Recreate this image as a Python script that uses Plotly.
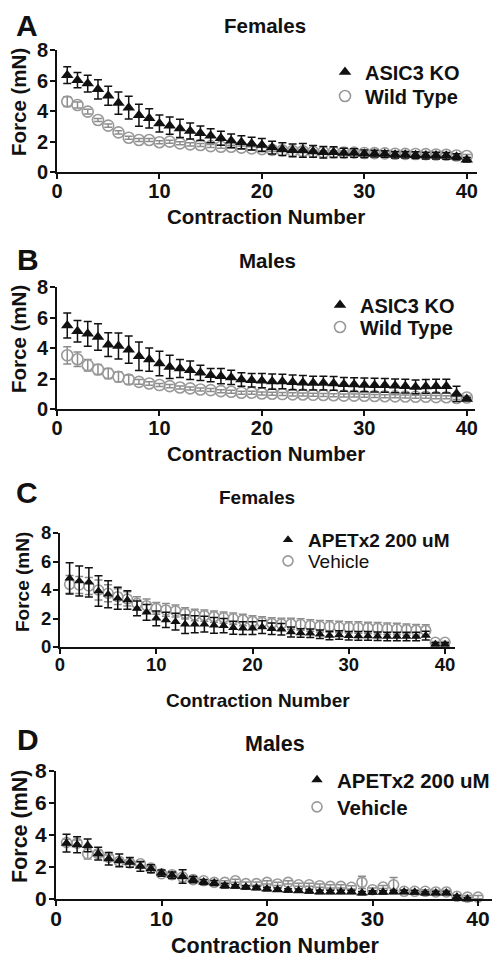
import plotly.graph_objects as go

contraction = list(range(1, 41))
x_ticks = [0, 10, 20, 30, 40]
y_ticks = [0, 2, 4, 6, 8]

# Panel A - Females, ASIC3 KO vs Wild Type
a_ko = [6.35, 6.02, 5.8, 5.42, 5.0, 4.52, 4.22, 3.72, 3.52, 3.18, 3.04, 2.86, 2.69, 2.54, 2.38, 2.21, 2.05, 1.95, 1.86, 1.77,
        1.6, 1.5, 1.42, 1.42, 1.35, 1.3, 1.3, 1.25, 1.25, 1.2, 1.2, 1.18, 1.13, 1.13, 1.1, 1.08, 1.08, 1.06, 1.0, 0.8]
a_ko_err = [0.55, 0.5, 0.55, 0.63, 0.63, 0.73, 0.75, 0.72, 0.63, 0.55, 0.57, 0.6, 0.52, 0.48, 0.46, 0.46, 0.45, 0.42, 0.42, 0.42,
            0.42, 0.42, 0.42, 0.45, 0.38, 0.38, 0.35, 0.3, 0.28, 0.25, 0.22, 0.22, 0.22, 0.22, 0.22, 0.22, 0.22, 0.22, 0.2, 0.15]
a_wt = [4.62, 4.39, 3.96, 3.41, 3.04, 2.6, 2.25, 2.1, 2.1, 1.95, 1.99, 1.88, 1.81, 1.77, 1.7, 1.66, 1.66, 1.6, 1.55, 1.5,
        1.45, 1.42, 1.38, 1.36, 1.32, 1.3, 1.3, 1.28, 1.27, 1.25, 1.24, 1.22, 1.2, 1.19, 1.18, 1.17, 1.15, 1.13, 1.08, 1.05]
a_wt_err = [0.32, 0.2, 0.15, 0.1, 0.1, 0.1, 0.1, 0.1, 0.1, 0.1, 0.1, 0.1, 0.1, 0.1, 0.1, 0.1, 0.1, 0.1, 0.1, 0.1,
            0.1, 0.1, 0.1, 0.1, 0.1, 0.1, 0.1, 0.1, 0.1, 0.1, 0.1, 0.1, 0.1, 0.1, 0.1, 0.1, 0.1, 0.1, 0.1, 0.1]

# Panel B - Males, ASIC3 KO vs Wild Type
b_ko = [5.48, 5.1, 4.93, 4.72, 4.22, 4.13, 3.89, 3.46, 3.24, 2.98, 2.76, 2.65, 2.54, 2.37, 2.22, 2.15, 2.07, 1.93, 1.89, 1.86,
        1.8, 1.8, 1.75, 1.72, 1.7, 1.7, 1.68, 1.62, 1.6, 1.58, 1.56, 1.55, 1.52, 1.5, 1.45, 1.48, 1.5, 1.5, 1.0, 0.65]
b_ko_err = [0.82, 0.7, 0.81, 0.87, 0.78, 0.85, 0.89, 0.93, 0.76, 0.8, 0.76, 0.59, 0.61, 0.5, 0.43, 0.5, 0.47, 0.44, 0.44, 0.46,
            0.5, 0.48, 0.48, 0.47, 0.45, 0.45, 0.45, 0.45, 0.45, 0.45, 0.45, 0.45, 0.45, 0.45, 0.45, 0.45, 0.45, 0.45, 0.5, 0.1]
b_wt = [3.52, 3.26, 2.87, 2.59, 2.33, 2.11, 1.93, 1.78, 1.67, 1.57, 1.5, 1.41, 1.35, 1.28, 1.24, 1.17, 1.13, 1.07, 1.07, 1.02,
        1.0, 0.98, 0.96, 0.95, 0.93, 0.92, 0.9, 0.88, 0.88, 0.87, 0.85, 0.84, 0.83, 0.82, 0.8, 0.8, 0.78, 0.77, 0.72, 0.75]
b_wt_err = [0.57, 0.47, 0.38, 0.33, 0.33, 0.33, 0.3, 0.15, 0.12, 0.1, 0.1, 0.1, 0.1, 0.1, 0.1, 0.1, 0.1, 0.1, 0.1, 0.1,
            0.1, 0.1, 0.1, 0.1, 0.1, 0.1, 0.1, 0.1, 0.1, 0.1, 0.1, 0.1, 0.1, 0.1, 0.1, 0.1, 0.1, 0.1, 0.1, 0.1]

# Panel C - Females, APETx2 200 uM vs Vehicle
c_apet = [4.82, 4.63, 4.54, 3.93, 3.7, 3.42, 3.3, 2.71, 2.43, 2.01, 1.9, 1.78, 1.6, 1.6, 1.6, 1.52, 1.5, 1.35, 1.32, 1.32,
          1.4, 1.28, 1.25, 1.05, 0.98, 0.96, 0.9, 0.81, 0.84, 0.79, 0.78, 0.78, 0.75, 0.74, 0.74, 0.74, 0.74, 0.8, 0.2, 0.2]
c_apet_err = [1.1, 1.05, 1.03, 1.07, 0.95, 0.77, 0.65, 0.52, 0.56, 0.52, 0.53, 0.58, 0.65, 0.6, 0.55, 0.55, 0.5, 0.45, 0.45, 0.45,
              0.45, 0.4, 0.4, 0.35, 0.3, 0.3, 0.3, 0.3, 0.3, 0.3, 0.3, 0.3, 0.3, 0.3, 0.3, 0.3, 0.3, 0.3, 0.1, 0.1]
c_veh = [4.4, 4.35, 4.28, 4.0, 3.77, 3.53, 3.37, 3.06, 2.9, 2.71, 2.6, 2.53, 2.36, 2.25, 2.2, 2.13, 2.06, 1.98, 1.9, 1.8,
         1.72, 1.66, 1.62, 1.62, 1.58, 1.51, 1.46, 1.44, 1.4, 1.38, 1.37, 1.34, 1.32, 1.28, 1.26, 1.22, 1.18, 1.16, 0.33, 0.33]
c_veh_err = [0.62, 0.6, 0.6, 0.7, 0.6, 0.55, 0.5, 0.47, 0.47, 0.42, 0.45, 0.42, 0.4, 0.4, 0.4, 0.4, 0.4, 0.4, 0.4, 0.4,
             0.4, 0.4, 0.4, 0.4, 0.4, 0.4, 0.4, 0.4, 0.4, 0.4, 0.4, 0.4, 0.4, 0.4, 0.4, 0.4, 0.4, 0.4, 0.05, 0.05]

# Panel D - Males, APETx2 200 uM vs Vehicle
d_apet = [3.49, 3.39, 3.35, 2.83, 2.52, 2.41, 2.29, 2.04, 1.89, 1.62, 1.48, 1.41, 1.21, 1.06, 1.0, 0.83, 0.79, 0.73, 0.69, 0.62,
          0.58, 0.54, 0.52, 0.48, 0.44, 0.44, 0.44, 0.44, 0.37, 0.42, 0.42, 0.44, 0.44, 0.42, 0.37, 0.37, 0.37, 0.12, 0.0, None]
d_apet_err = [0.56, 0.5, 0.4, 0.4, 0.39, 0.4, 0.3, 0.3, 0.25, 0.2, 0.2, 0.42, 0.2, 0.15, 0.15, 0.15, 0.1, 0.1, 0.1, 0.1,
              0.1, 0.1, 0.1, 0.1, 0.1, 0.1, 0.1, 0.1, 0.1, 0.1, 0.1, 0.1, 0.1, 0.1, 0.1, 0.1, 0.1, 0.1, 0.1, 0.0]
d_veh = [3.53, 3.49, 2.83, 2.83, 2.6, 2.35, 2.25, 2.2, 1.93, 1.58, 1.52, 1.37, 1.21, 1.14, 1.04, 1.04, 1.14, 0.96, 0.96, 1.04,
         0.94, 1.04, 0.89, 0.89, 0.83, 0.79, 0.79, 0.73, 1.04, 0.58, 0.75, 0.89, 0.48, 0.48, 0.48, 0.44, 0.44, 0.17, 0.12, 0.12]
d_veh_err = [0.2, 0.2, 0.33, 0.2, 0.15, 0.1, 0.1, 0.1, 0.1, 0.1, 0.1, 0.1, 0.1, 0.1, 0.1, 0.1, 0.1, 0.1, 0.1, 0.1,
             0.1, 0.1, 0.1, 0.1, 0.1, 0.1, 0.1, 0.1, 0.38, 0.1, 0.1, 0.45, 0.1, 0.1, 0.1, 0.1, 0.1, 0.1, 0.1, 0.1]

FONT = "Liberation Sans, Arial, sans-serif"
BLACK = "#111111"
GRAY = "#999999"
GRAY_ERR = "#8c8c8c"

# page body has an 8px margin; the figure is sized to fill the rest of the 500x959 window
OFF = 8
W, H = 500 - OFF, 959 - OFF


def px_x(p):
    return (p - OFF) / W


def px_y(p):
    return 1 - (p - OFF) / H


panels = [
    dict(letter="A", title="Females", s1=("ASIC3 KO", a_ko, a_ko_err), s2=("Wild Type", a_wt, a_wt_err),
         xd=(57, 477), yd=(50, 172), xmax=41.0, fs=20, tri=11, circ=11,
         letter_pos=(27, 25), title_pos=(265, 25), xt_pos=(266, 217), yt_pos=(18, 102),
         leg_x=365, leg_y=(72, 96), bold_second=True, legfs=20),
    dict(letter="B", title="Males", s1=("ASIC3 KO", b_ko, b_ko_err), s2=("Wild Type", b_wt, b_wt_err),
         xd=(57, 475), yd=(287, 409), xmax=40.8, fs=20, tri=11, circ=11,
         letter_pos=(28, 259), title_pos=(267, 260), xt_pos=(266, 453), yt_pos=(18, 339),
         leg_x=360, leg_y=(305, 327), bold_second=True, legfs=20),
    dict(letter="C", title="Females", s1=("APETx2 200 uM", c_apet, c_apet_err), s2=("Vehicle", c_veh, c_veh_err),
         xd=(60, 455), yd=(533, 647), xmax=41.04, fs=18.5, tri=9, circ=10,
         letter_pos=(27, 492), title_pos=(257, 497), xt_pos=(258, 700), yt_pos=(22, 582),
         leg_x=308, leg_y=(540, 561), bold_second=False, legfs=19),
    dict(letter="D", title="Males", s1=("APETx2 200 uM", d_apet, d_apet_err), s2=("Vehicle", d_veh, d_veh_err),
         xd=(56, 497), yd=(771, 899), xmax=41.8, fs=21, tri=10, circ=10,
         letter_pos=(28, 739), title_pos=(275, 744), xt_pos=(275, 946), yt_pos=(20, 827),
         leg_x=337, leg_y=(780, 807), bold_second=True, legfs=20.5),
]

fig = go.Figure()
annotations = []
layout_upd = {}
leg_count = 0

for i, p in enumerate(panels):
    k = "" if i == 0 else str(i + 1)
    xa, ya = "x" + k, "y" + k
    n1, v1, e1 = p["s1"]
    n2, v2, e2 = p["s2"]
    name1 = "<b>" + n1 + "</b>"
    name2 = ("<b>" + n2 + "</b>") if p["bold_second"] else n2

    leg_names = []
    for row in range(2):
        leg_count += 1
        lg = "legend" if leg_count == 1 else "legend" + str(leg_count)
        leg_names.append(lg)
        layout_upd[lg] = dict(x=px_x(p["leg_x"] - 40), y=px_y(p["leg_y"][row]), xanchor="left", yanchor="middle",
                              bgcolor="rgba(0,0,0,0)", borderwidth=0, tracegroupgap=0,
                              font=dict(family=FONT, size=p["legfs"], color=BLACK, weight="normal"))

    fig.add_trace(go.Scatter(
        x=contraction, y=v2, mode="markers", name=name2, xaxis=xa, yaxis=ya, legend=leg_names[1],
        marker=dict(symbol="circle-open", size=p["circ"], color=GRAY, line=dict(width=1.6, color=GRAY)),
        error_y=dict(type="data", array=e2, visible=True, color=GRAY_ERR, thickness=1.5, width=4),
        cliponaxis=False))
    fig.add_trace(go.Scatter(
        x=contraction, y=v1, mode="markers", name=name1, xaxis=xa, yaxis=ya, legend=leg_names[0],
        marker=dict(symbol="triangle-up", size=p["tri"], color=BLACK, line=dict(width=0)),
        error_y=dict(type="data", array=e1, visible=True, color=BLACK, thickness=1.5, width=4),
        cliponaxis=False))

    fs = p["fs"]
    axis_common = dict(showline=True, linecolor=BLACK, linewidth=2, ticks="outside", ticklen=5, tickwidth=2,
                       tickcolor=BLACK, showgrid=False, zeroline=False, automargin=False,
                       tickfont=dict(family=FONT, size=fs, color=BLACK, weight="bold"))
    layout_upd["xaxis" + k] = dict(axis_common, domain=[px_x(p["xd"][0]), px_x(p["xd"][1])],
                                   range=[0, p["xmax"]], tickvals=x_ticks, anchor=ya, ticklabelstandoff=-5)
    layout_upd["yaxis" + k] = dict(axis_common, domain=[px_y(p["yd"][1]), px_y(p["yd"][0])],
                                   range=[0, 8], tickvals=y_ticks, anchor=xa, ticklabelstandoff=-2)

    def ann(text, pos, size, angle=0):
        annotations.append(dict(text=text, x=px_x(pos[0]), y=px_y(pos[1]), xref="paper", yref="paper",
                                showarrow=False, xanchor="center", yanchor="middle", textangle=angle,
                                font=dict(family=FONT, size=size, color=BLACK, weight="bold")))

    ann(p["letter"], p["letter_pos"], 30)
    ann(p["title"], p["title_pos"], fs + 0.5)
    ann("Contraction Number", p["xt_pos"], fs + 0.5)
    ann("Force (mN)", p["yt_pos"], fs + 0.5, angle=-90)

fig.update_layout(**layout_upd)
fig.update_layout(width=W, height=H, margin=dict(l=0, r=0, t=0, b=0, autoexpand=False), showlegend=True,
                  paper_bgcolor="white", plot_bgcolor="white", annotations=annotations,
                  font=dict(family=FONT, color=BLACK))

fig.write_html("out.html")
